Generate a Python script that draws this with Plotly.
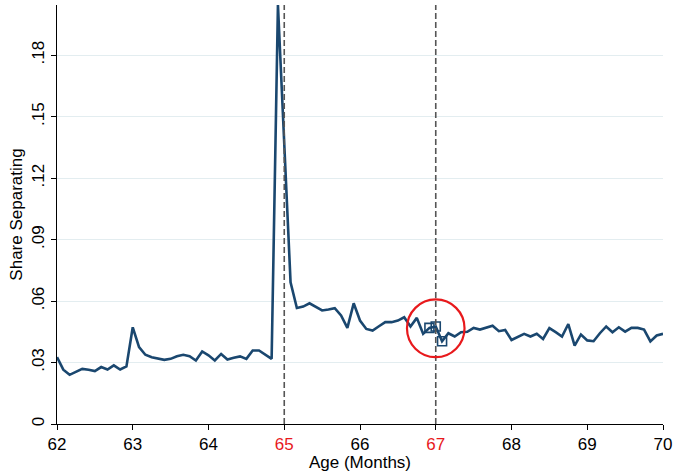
import plotly.graph_objects as go

# Month index (0 = age 62 and 0 months), monthly observations up to age 70
month_index = list(range(97))
share_separating = [
    0.0326, 0.0265, 0.0240, 0.0253, 0.0269, 0.0265, 0.0258, 0.0278, 0.0266, 0.0286,
    0.0266, 0.0281, 0.0472, 0.0375, 0.0338, 0.0326, 0.0318, 0.0313, 0.0318, 0.0331,
    0.0338, 0.0331, 0.0310, 0.0354, 0.0335, 0.0310, 0.0342, 0.0315, 0.0323, 0.0330,
    0.0318, 0.0359, 0.0359, 0.0340, 0.0318, 0.2045, 0.1360, 0.0692, 0.0566, 0.0573,
    0.0589, 0.0573, 0.0554, 0.0559, 0.0565, 0.0530, 0.0469, 0.0589, 0.0505, 0.0464,
    0.0456, 0.0477, 0.0497, 0.0497, 0.0505, 0.0521, 0.0476, 0.0518, 0.0440, 0.0469,
    0.0476, 0.0404, 0.0443, 0.0427, 0.0448, 0.0450, 0.0469, 0.0461, 0.0472, 0.0480,
    0.0453, 0.0459, 0.0410, 0.0424, 0.0440, 0.0427, 0.0440, 0.0415, 0.0468, 0.0448,
    0.0427, 0.0488, 0.0383, 0.0437, 0.0408, 0.0404, 0.0443, 0.0476, 0.0448, 0.0472,
    0.0451, 0.0469, 0.0469, 0.0461, 0.0403, 0.0432, 0.0440,
]
ages = [62 + m / 12 for m in month_index]

# Highlighted observations (indices) around age 67
highlight_idx = [59, 60, 61]

x_ticks = [62, 63, 64, 65, 66, 67, 68, 69, 70]
x_tick_labels = ["62", "63", "64", "65", "66", "67", "68", "69", "70"]
red_ticks = [65, 67]
y_ticks = [0, 0.03, 0.06, 0.09, 0.12, 0.15, 0.18]
y_tick_labels = ["0", ".03", ".06", ".09", ".12", ".15", ".18"]
cutoff_ages = [65, 67]
circle_center = (67, 0.0467)

NAVY = "#1a476f"
FONT = "Liberation Sans, Arial, Helvetica, sans-serif"

fig = go.Figure()
fig.add_trace(go.Scatter(
    x=ages, y=share_separating, mode="lines",
    line=dict(color=NAVY, width=2.6), showlegend=False, cliponaxis=True,
))
fig.add_trace(go.Scatter(
    x=[ages[i] for i in highlight_idx], y=[share_separating[i] for i in highlight_idx],
    mode="markers",
    marker=dict(symbol="square-open", size=9, color=NAVY, line=dict(width=1.6, color=NAVY)),
    showlegend=False,
))

for a in cutoff_ages:
    fig.add_shape(type="line", xref="x", yref="paper", x0=a, x1=a, y0=0, y1=1,
                  line=dict(color="#555555", width=1.6, dash="6px,3px"), layer="above")

cx, cy = circle_center
rx, ry = 0.38, 0.0141
fig.add_shape(type="circle", xref="x", yref="y", x0=cx - rx, x1=cx + rx,
              y0=cy - ry, y1=cy + ry, line=dict(color="#e8191c", width=2.2), layer="above")

ticktext = [f'<span style="color:#e8191c">{t}</span>' if v in red_ticks else t
            for v, t in zip(x_ticks, x_tick_labels)]

fig.update_layout(
    width=677, height=472,
    margin=dict(l=57, r=12, t=5, b=42),
    paper_bgcolor="white", plot_bgcolor="white",
    font=dict(family=FONT, size=17, color="black"),
    xaxis=dict(
        range=[62, 70], tickvals=x_ticks, ticktext=ticktext,
        showgrid=False, zeroline=False, showline=True, linecolor="black", linewidth=1,
        ticks="outside", ticklen=5, tickcolor="black",
        title=dict(text="Age (Months)", standoff=1, font=dict(size=17)),
        tickfont=dict(size=17),
    ),
    yaxis=dict(
        range=[0, 0.2045], tickvals=y_ticks, ticktext=y_tick_labels,
        tickangle=-90,
        showgrid=True, gridcolor="#e3edf0", gridwidth=1.2,
        zeroline=False, showline=True, linecolor="black", linewidth=1,
        ticks="outside", ticklen=5, tickcolor="black",
        title=dict(text="Share Separating", standoff=2, font=dict(size=17)),
        tickfont=dict(size=17),
    ),
)

fig.write_html("out.html")
